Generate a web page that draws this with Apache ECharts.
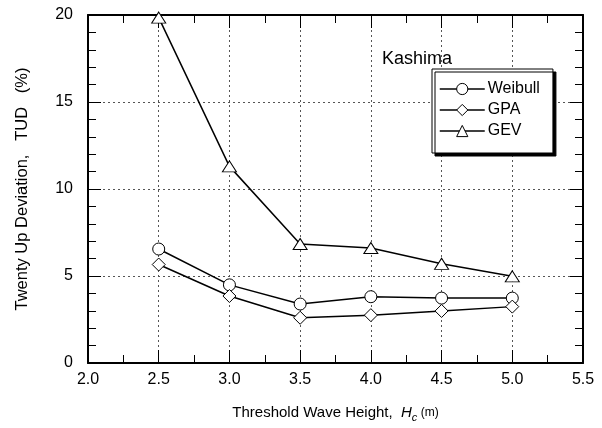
<!DOCTYPE html>
<html><head><meta charset="utf-8">
<script src="https://cdn.jsdelivr.net/npm/echarts@6/dist/echarts.min.js"></script>
<style>html,body{margin:0;padding:0;background:#fff}#c{width:602px;height:428px}</style>
</head><body><div id="c"></div>
<script>
const xValues = [2.5, 3.0, 3.5, 4.0, 4.5, 5.0];
const weibull = [6.55, 4.49, 3.39, 3.81, 3.73, 3.73];
const gpa = [5.66, 3.85, 2.60, 2.75, 2.99, 3.24];
const gev = [19.85, 11.3, 6.84, 6.61, 5.70, 4.98];
const seriesNames = ['Weibull', 'GPA', 'GEV'];
const stationName = 'Kashima';

const FONT = 'Liberation Sans, Arial, sans-serif';
const chart = echarts.init(document.getElementById('c'));
const pair = arr => xValues.map((x, i) => [x, arr[i]]);

const axisCommon = {
  type: 'value',
  axisLine: { show: true, onZero: false, lineStyle: { color: '#000', width: 2 } },
  axisTick: { show: true, inside: true, length: 13, lineStyle: { color: '#000', width: 1 } },
  minorTick: { show: true, length: 8, lineStyle: { color: '#000', width: 1 } },
  minorSplitLine: { show: false }
};

const mkSeries = (name, data, symbol, size) => ({
  name, type: 'line', data: pair(data), symbol, symbolSize: size,
  showAllSymbol: true, clip: false,
  lineStyle: { color: '#000', width: 1.5 },
  itemStyle: { color: '#fff', borderColor: '#000', borderWidth: 1 },
  z: 5
});

chart.setOption({
  animation: false,
  backgroundColor: '#fff',
  textStyle: { fontFamily: FONT, color: '#000' },
  grid: { left: 88, right: 19, top: 15, bottom: 61, containLabel: false },
  title: {
    text: stationName, left: 377, top: 45,
    textStyle: { fontFamily: FONT, fontSize: 18, fontWeight: 'normal', color: '#000' }
  },
  legend: {
    data: seriesNames, orient: 'vertical', left: 432, top: 69,
    padding: [12, 13, 14, 7], itemGap: 5,
    itemWidth: 45, itemHeight: 14,
    backgroundColor: '#fff', borderColor: '#000', borderWidth: 1,
    shadowColor: '#000', shadowBlur: 0, shadowOffsetX: 3, shadowOffsetY: 3,
    itemStyle: { borderWidth: 1, borderColor: '#000', color: '#fff' },
    lineStyle: { width: 1.5, color: '#000' },
    textStyle: { fontFamily: FONT, fontSize: 16, color: '#000', padding: [0,0,0,-2] }
  },
  xAxis: [
    Object.assign({}, axisCommon, {
      min: 2.0, max: 5.5, interval: 0.5, position: 'bottom',
      minorTick: Object.assign({}, axisCommon.minorTick, { splitNumber: 2 }),
      axisLabel: { show: true, margin: 9, fontSize: 16, color: '#000', fontFamily: FONT,
        formatter: v => v.toFixed(1) },
      splitLine: { show: true, lineStyle: { color: '#555', type: [2, 3], width: 1 } },
      name: '{a|Threshold Wave Height,  }{i|H}{s|c}{m| (m)}',
      nameLocation: 'middle', nameGap: 39,
      nameTextStyle: {
        rich: {
          a: { fontFamily: FONT, fontSize: 15, color: '#000' },
          i: { fontFamily: FONT, fontSize: 15, fontStyle: 'italic', color: '#000' },
          s: { fontFamily: FONT, fontSize: 11, fontStyle: 'italic', color: '#000', padding: [10, 0, 0, 0] },
          m: { fontFamily: FONT, fontSize: 12, color: '#000' }
        }
      }
    }),
    Object.assign({}, axisCommon, {
      min: 2.0, max: 5.5, interval: 0.5, position: 'top',
      minorTick: Object.assign({}, axisCommon.minorTick, { splitNumber: 2 }),
      axisLabel: { show: false }, splitLine: { show: false }
    })
  ],
  yAxis: [
    Object.assign({}, axisCommon, {
      min: 0, max: 20, interval: 5, position: 'left',
      minorTick: Object.assign({}, axisCommon.minorTick, { splitNumber: 5 }),
      axisLabel: { show: true, margin: 15, fontSize: 16, color: '#000', fontFamily: FONT },
      splitLine: { show: true, lineStyle: { color: '#555', type: [2, 3], width: 1 } },
      name: 'Twenty Up Deviation,   TUD   (%)', nameLocation: 'middle', nameGap: 57,
      nameTextStyle: { fontFamily: FONT, fontSize: 16.5, color: '#000' }
    }),
    Object.assign({}, axisCommon, {
      min: 0, max: 20, interval: 5, position: 'right',
      minorTick: Object.assign({}, axisCommon.minorTick, { splitNumber: 5 }),
      axisLabel: { show: false }, splitLine: { show: false }
    })
  ],
  series: [
    mkSeries('Weibull', weibull, 'circle', 12),
    mkSeries('GPA', gpa, 'diamond', 13),
    mkSeries('GEV', gev, 'triangle', [14, 11])
  ]
});
</script></body></html>
